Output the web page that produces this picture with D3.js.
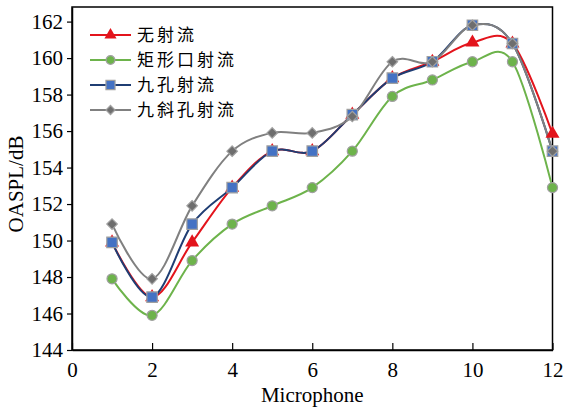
<!DOCTYPE html>
<html lang="zh">
    <head>
        <meta charset="utf-8">
        <title>OASPL vs Microphone</title>
        <script type="text/javascript" src="https://d3js.org/d3.v7.min.js"></script>
        <style type="text/css">
            body { margin: 0; background: #fff; }
            text { font-family: "Liberation Serif", "Times New Roman", serif; }
            .cjk { font-family: "Noto Sans CJK SC", sans-serif; }
        </style>
    </head>
    <body>
        <script type="text/javascript">

            const width = 568;
            const height = 410;
            const margin = {top: 7, right: 15, bottom: 60, left: 72};

            // data
            const mics = [1, 2, 3, 4, 5, 6, 7, 8, 9, 10, 11, 12];
            const noJet     = [149.9, 146.9, 149.9, 152.9, 154.9, 154.9, 156.9, 158.9, 159.8, 160.85, 160.8, 155.85];
            const rectJet   = [147.9, 145.9, 148.9, 150.9, 151.9, 152.9, 154.9, 157.9, 158.8, 159.8, 159.8, 152.9];
            const nineJet   = [149.9, 146.9, 150.9, 152.9, 154.9, 154.9, 156.9, 158.9, 159.8, 161.8, 160.8, 154.9];
            const slantJet  = [150.9, 147.9, 151.9, 154.9, 155.9, 155.9, 156.8, 159.8, 159.8, 161.8, 160.8, 154.9];

            const names = ["无射流", "矩形口射流", "九孔射流", "九斜孔射流"];
            const xTicks = [0, 2, 4, 6, 8, 10, 12];
            const yTicks = [144, 146, 148, 150, 152, 154, 156, 158, 160, 162];

            // rotated square for the diamond marker
            const diamond = {
                draw(ctx, size) {
                    const r = Math.sqrt(size) / 2 * Math.SQRT2;
                    ctx.moveTo(0, -r); ctx.lineTo(r, 0); ctx.lineTo(0, r); ctx.lineTo(-r, 0); ctx.closePath();
                }
            };

            const series = [
                {name: names[0], values: noJet,    line: "#e3141c", fill: "#e3141c", stroke: "none",    shape: d3.symbolTriangle, size: 85},
                {name: names[1], values: rectJet,  line: "#6db34b", fill: "#6db34b", stroke: "#a0a0a0", shape: d3.symbolCircle,   size: 80},
                {name: names[2], values: nineJet,  line: "#1f3d73", fill: "#4472c4", stroke: "#a0a0a0", shape: d3.symbolSquare,   size: 110},
                {name: names[3], values: slantJet, line: "#808080", fill: "#6e6e6e", stroke: "#a0a0a0", shape: diamond,           size: 55}
            ];

            const x = d3.scaleLinear()
                        .domain([0, 12])
                        .range([margin.left, width - margin.right - 0.5]);

            const y = d3.scaleLinear()
                        .domain([144, 162.8])
                        .range([height - margin.bottom, margin.top]);

            const svg = d3.select("body")
                          .append("svg")
                          .attr("width", width)
                          .attr("height", height);

            // frame
            svg.append("rect")
               .attr("x", x(0))
               .attr("y", y(162.8))
               .attr("width", x(12) - x(0))
               .attr("height", y(144) - y(162.8))
               .attr("fill", "none")
               .attr("stroke", "#000")
               .attr("stroke-width", 1.5);

            // bottom axis, ticks point inwards
            const bottomAxis = d3.axisBottom(x)
                                 .tickValues(xTicks)
                                 .tickSizeInner(-7)
                                 .tickSizeOuter(0)
                                 .tickPadding(12);
            const gx = svg.append("g")
                          .attr("transform", "translate(0," + y(144) + ")")
                          .call(bottomAxis);
            gx.select(".domain").attr("stroke-width", 1.5);
            gx.selectAll(".tick line").attr("stroke-width", 1.2);
            gx.selectAll("text").attr("font-size", "21px").attr("fill", "#000");

            // left axis, ticks point outwards
            const leftAxis = d3.axisLeft(y)
                               .tickValues(yTicks)
                               .tickSizeInner(5)
                               .tickSizeOuter(0)
                               .tickPadding(4);
            const gy = svg.append("g")
                          .attr("transform", "translate(" + x(0) + ",0)")
                          .call(leftAxis);
            gy.select(".domain").attr("stroke-width", 1.5);
            gy.selectAll(".tick line").attr("stroke-width", 1.2);
            gy.selectAll("text").attr("font-size", "21px").attr("fill", "#000");

            // axis titles
            svg.append("text")
               .attr("x", (x(0) + x(12)) / 2)
               .attr("y", 402)
               .attr("text-anchor", "middle")
               .attr("font-size", "21px")
               .text("Microphone");

            svg.append("text")
               .attr("transform", "translate(23,184) rotate(-90)")
               .attr("text-anchor", "middle")
               .attr("font-size", "21px")
               .text("OASPL/dB");

            // smooth lines
            const line = d3.line()
                           .x((d, i) => x(mics[i]))
                           .y(d => y(d))
                           .curve(d3.curveCardinal.tension(0));

            series.forEach(s => {
                svg.append("path")
                   .datum(s.values)
                   .attr("d", line)
                   .attr("fill", "none")
                   .attr("stroke", s.line)
                   .attr("stroke-width", 2);
            });

            // markers
            series.forEach(s => {
                svg.append("g")
                   .selectAll("path")
                   .data(s.values)
                   .join("path")
                   .attr("transform", (d, i) => "translate(" + x(mics[i]) + "," + y(d) + ")")
                   .attr("d", d3.symbol().type(s.shape).size(s.size))
                   .attr("fill", s.fill)
                   .attr("stroke", s.stroke)
                   .attr("stroke-width", 1.2);
            });

            // legend
            const legend = svg.append("g")
                              .attr("transform", "translate(90,35)");
            series.forEach((s, i) => {
                const row = legend.append("g").attr("transform", "translate(0," + i * 25 + ")");
                row.append("line")
                   .attr("x1", 0).attr("x2", 41)
                   .attr("stroke", s.line)
                   .attr("stroke-width", 2);
                row.append("path")
                   .attr("transform", "translate(20.5,0)")
                   .attr("d", d3.symbol().type(s.shape).size(s.size * 0.75))
                   .attr("fill", s.fill)
                   .attr("stroke", s.stroke)
                   .attr("stroke-width", 1.2);
                row.append("text")
                   .attr("class", "cjk")
                   .attr("x", 47)
                   .attr("y", 6)
                   .attr("font-size", "17px")
                   .attr("letter-spacing", "3px")
                   .text(s.name);
            });

        </script>
    </body>
</html>
